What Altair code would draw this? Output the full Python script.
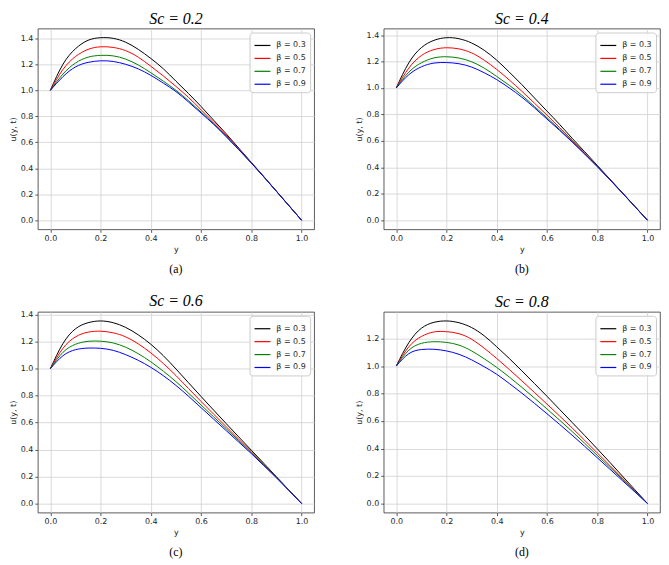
import altair as alt
import pandas as pd

# sample positions along y
y_pts = [0.00, 0.05, 0.10, 0.15, 0.20, 0.25, 0.30, 0.35, 0.40, 0.45, 0.50,
         0.55, 0.60, 0.65, 0.70, 0.75, 0.80, 0.85, 0.90, 0.95, 1.00]

betas = ["β = 0.3", "β = 0.5", "β = 0.7", "β = 0.9"]
colors = ["black", "red", "green", "blue"]
sc_titles = ["Sc = 0.2", "Sc = 0.4", "Sc = 0.6", "Sc = 0.8"]
captions = ["(a)", "(b)", "(c)", "(d)"]
x_ticks = [0.0, 0.2, 0.4, 0.6, 0.8, 1.0]
y_ticks = [0.0, 0.2, 0.4, 0.6, 0.8, 1.0, 1.2, 1.4]

# Sc = 0.2
a_b03 = [1.00, 1.20, 1.32, 1.385, 1.405, 1.40, 1.37, 1.315, 1.245, 1.165, 1.07,
         0.975, 0.875, 0.77, 0.665, 0.555, 0.445, 0.335, 0.223, 0.112, 0.0]
a_b05 = [1.00, 1.16, 1.26, 1.315, 1.335, 1.33, 1.305, 1.255, 1.185, 1.11, 1.03,
         0.945, 0.85, 0.755, 0.655, 0.55, 0.443, 0.334, 0.223, 0.112, 0.0]
a_b07 = [1.00, 1.125, 1.21, 1.255, 1.269, 1.265, 1.24, 1.195, 1.135, 1.07, 1.00,
         0.92, 0.833, 0.743, 0.645, 0.545, 0.44, 0.333, 0.222, 0.111, 0.0]
a_b09 = [1.00, 1.105, 1.18, 1.215, 1.227, 1.222, 1.20, 1.165, 1.115, 1.055, 0.99,
         0.91, 0.825, 0.738, 0.643, 0.543, 0.44, 0.333, 0.222, 0.111, 0.0]

# Sc = 0.4
b_b03 = [1.00, 1.19, 1.305, 1.36, 1.38, 1.372, 1.34, 1.285, 1.21, 1.12, 1.025,
         0.925, 0.825, 0.725, 0.62, 0.518, 0.415, 0.312, 0.208, 0.104, 0.0]
b_b05 = [1.00, 1.15, 1.245, 1.29, 1.304, 1.295, 1.265, 1.21, 1.14, 1.06, 0.975,
         0.885, 0.795, 0.70, 0.605, 0.508, 0.41, 0.309, 0.207, 0.104, 0.0]
b_b07 = [1.00, 1.12, 1.19, 1.227, 1.236, 1.226, 1.198, 1.15, 1.087, 1.02, 0.945,
         0.86, 0.775, 0.687, 0.597, 0.503, 0.407, 0.308, 0.206, 0.103, 0.0]
b_b09 = [1.00, 1.10, 1.16, 1.188, 1.192, 1.183, 1.158, 1.115, 1.063, 1.00, 0.93,
         0.85, 0.765, 0.68, 0.592, 0.50, 0.405, 0.307, 0.206, 0.103, 0.0]

# Sc = 0.6
c_b03 = [1.00, 1.185, 1.295, 1.34, 1.353, 1.34, 1.305, 1.25, 1.18, 1.095, 0.997,
         0.895, 0.793, 0.692, 0.592, 0.493, 0.395, 0.297, 0.198, 0.099, 0.0]
c_b05 = [1.00, 1.15, 1.235, 1.27, 1.277, 1.265, 1.235, 1.183, 1.116, 1.037, 0.948,
         0.852, 0.756, 0.662, 0.569, 0.476, 0.384, 0.29, 0.195, 0.098, 0.0]
c_b07 = [1.00, 1.12, 1.18, 1.202, 1.203, 1.19, 1.158, 1.11, 1.05, 0.98, 0.903,
         0.818, 0.73, 0.642, 0.554, 0.466, 0.377, 0.286, 0.193, 0.097, 0.0]
c_b09 = [1.00, 1.095, 1.14, 1.152, 1.15, 1.135, 1.103, 1.061, 1.009, 0.947, 0.875,
         0.795, 0.71, 0.625, 0.54, 0.455, 0.37, 0.28, 0.19, 0.095, 0.0]

# Sc = 0.8
d_b03 = [1.00, 1.17, 1.275, 1.318, 1.328, 1.315, 1.28, 1.22, 1.14, 1.055, 0.965,
         0.873, 0.78, 0.685, 0.59, 0.495, 0.398, 0.30, 0.20, 0.10, 0.0]
d_b05 = [1.00, 1.14, 1.215, 1.248, 1.25, 1.235, 1.195, 1.13, 1.055, 0.975, 0.892,
         0.808, 0.723, 0.637, 0.55, 0.46, 0.368, 0.277, 0.185, 0.093, 0.0]
d_b07 = [1.00, 1.115, 1.165, 1.177, 1.172, 1.152, 1.11, 1.053, 0.99, 0.92, 0.845,
         0.767, 0.688, 0.607, 0.524, 0.438, 0.35, 0.264, 0.177, 0.089, 0.0]
d_b09 = [1.00, 1.09, 1.12, 1.122, 1.11, 1.085, 1.045, 0.995, 0.94, 0.873, 0.803,
         0.729, 0.653, 0.576, 0.497, 0.416, 0.333, 0.25, 0.167, 0.084, 0.0]

panels = [
    [a_b03, a_b05, a_b07, a_b09],
    [b_b03, b_b05, b_b07, b_b09],
    [c_b03, c_b05, c_b07, c_b09],
    [d_b03, d_b05, d_b07, d_b09],
]

W = 278
H = 202


def make_panel(i):
    series = panels[i]
    rows = []
    for k, (b, vals) in enumerate(zip(betas, series)):
        for x, u in zip(y_pts, vals):
            rows.append({"y": x, "u": u, "beta": b, "order": k})
    df = pd.DataFrame(rows)
    all_u = [v for s in series for v in s]
    lo, hi = min(all_u), max(all_u)
    pad = 0.05 * (hi - lo)
    ydom = [lo - pad, hi + pad]
    yt = [t for t in y_ticks if ydom[0] <= t <= ydom[1]]

    lines = alt.Chart(df).mark_line(strokeWidth=1.0, interpolate="natural").encode(
        x=alt.X("y:Q", title="y",
                scale=alt.Scale(domain=[-0.05, 1.05], nice=False, zero=False),
                axis=alt.Axis(values=x_ticks, format=".1f")),
        y=alt.Y("u:Q", title="u(y, t)",
                scale=alt.Scale(domain=ydom, nice=False, zero=False),
                axis=alt.Axis(values=yt, format=".1f")),
        color=alt.Color("beta:N",
                        scale=alt.Scale(domain=betas, range=colors),
                        legend=alt.Legend(title=None, orient="top-right")),
        order="order:Q",
    )
    cap = alt.Chart(pd.DataFrame({"cap": [captions[i]]})).mark_text(
        font="Liberation Serif", fontSize=12, baseline="middle", color="black"
    ).encode(
        x=alt.value(W / 2),
        y=alt.value(H + 40),
        text="cap:N",
    )
    return alt.layer(lines, cap).properties(
        width=W, height=H,
        title=alt.Title(sc_titles[i], font="Liberation Serif", fontStyle="italic",
                        fontSize=16, fontWeight="normal", color="black", offset=2),
    )


row1 = alt.hconcat(make_panel(0), make_panel(1), spacing=39).resolve_scale(color="independent")
row2 = alt.hconcat(make_panel(2), make_panel(3), spacing=39).resolve_scale(color="independent")

chart = alt.vconcat(row1, row2, spacing=16).resolve_scale(
    color="independent"
).properties(
    padding={"left": 0, "top": 0, "right": 0, "bottom": 0}
).configure_axis(
    grid=True, gridColor="#d0d0d0", gridWidth=0.8,
    domain=False, tickColor="#333333", tickSize=3, tickWidth=0.8,
    labelFont="DejaVu Sans", labelFontSize=8, labelColor="#222222", labelPadding=2,
    titleFont="DejaVu Sans", titleFontSize=8, titleFontWeight="normal",
    titleColor="#222222", titlePadding=3,
).configure_view(
    stroke="#333333", strokeWidth=0.8
).configure_legend(
    fillColor="rgba(255,255,255,0.85)", strokeColor="#cccccc", cornerRadius=3,
    padding=4, offset=4, symbolType="stroke", symbolSize=256,
    symbolStrokeWidth=1.2, labelFont="DejaVu Sans", labelFontSize=8,
    labelColor="#222222", rowPadding=0, labelOffset=5,
)

chart.save("out.html", embed_options={"renderer": "svg", "actions": False})
